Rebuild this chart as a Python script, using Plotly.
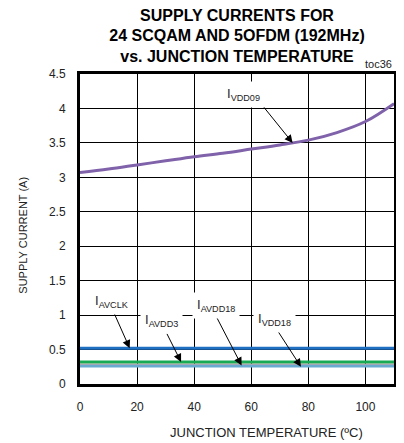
import plotly.graph_objects as go

# Data
temp = [0, 10, 20, 30, 40, 50, 60, 70, 80, 90, 100, 110]
i_vdd09 = [3.07, 3.12, 3.18, 3.24, 3.30, 3.35, 3.41, 3.47, 3.54, 3.65, 3.81, 4.07]
temp_flat = [0, 110]
i_avclk = [0.52, 0.52]
i_avdd3 = [0.32, 0.32]
i_avdd18 = [0.28, 0.28]
i_vdd18 = [0.26, 0.26]

x_ticks = [0, 20, 40, 60, 80, 100]
y_ticks = [0, 0.5, 1, 1.5, 2, 2.5, 3, 3.5, 4, 4.5]
y_ticktext = ["0", "0.5", "1", "1.5", "2", "2.5", "3", "3.5", "4", "4.5"]

FONT = "Liberation Sans, Arial, sans-serif"

fig = go.Figure()
fig.add_trace(go.Scatter(x=temp_flat, y=i_avdd18, mode="lines",
                         line=dict(color="#e3a3a3", width=2.5), name="IAVDD18"))
fig.add_trace(go.Scatter(x=temp_flat, y=i_vdd18, mode="lines",
                         line=dict(color="#6aaad0", width=3), name="IVDD18"))
fig.add_trace(go.Scatter(x=temp_flat, y=i_avdd3, mode="lines",
                         line=dict(color="#19aa55", width=3), name="IAVDD3"))
fig.add_trace(go.Scatter(x=temp_flat, y=i_avclk, mode="lines",
                         line=dict(color="#1f6fc2", width=3), name="IAVCLK"))
fig.add_trace(go.Scatter(x=temp, y=i_vdd09, mode="lines",
                         line=dict(color="#7f62aa", width=3, shape="spline"), name="IVDD09"))

# arrows: (head_x, head_y, tail_x, tail_y)
arrows = [
    (74.5, 3.50, 63.2, 4.08),
    (17.4, 0.52, 11.5, 1.07),
    (35.4, 0.32, 30.2, 0.75),
    (56.6, 0.27, 47.6, 0.99),
    (77.4, 0.25, 68.8, 0.80),
]
for hx, hy, tx, ty in arrows:
    fig.add_annotation(x=hx, y=hy, ax=tx, ay=ty, xref="x", yref="y", axref="x", ayref="y",
                       text="", showarrow=True, arrowhead=2, arrowsize=1.6, arrowwidth=1,
                       arrowcolor="black", standoff=0, startstandoff=0)

labels = [
    ("I<sub>VDD09</sub>", 57.3, 4.20),
    ("I<sub>AVCLK</sub>", 10.9, 1.20),
    ("I<sub>AVDD3</sub>", 28.4, 0.92),
    ("I<sub>AVDD18</sub>", 47.7, 1.14),
    ("I<sub>VDD18</sub>", 68.1, 0.94),
]
for t, lx, ly in labels:
    fig.add_annotation(x=lx, y=ly, xref="x", yref="y", text=t, showarrow=False,
                       font=dict(family=FONT, size=13, color="#222"),
                       bgcolor="white", borderpad=4)

fig.add_annotation(xref="paper", yref="paper", x=1.0, y=1.0, xanchor="right", yanchor="bottom",
                   yshift=2, text="toc36", showarrow=False,
                   font=dict(family=FONT, size=11, color="#222"))
fig.add_annotation(xref="paper", yref="paper", x=0.593, y=-0.158, xanchor="center", yanchor="middle",
                   text="JUNCTION TEMPERATURE (ºC)", showarrow=False,
                   font=dict(family=FONT, size=13, color="#222"))
fig.add_annotation(xref="paper", yref="paper", x=-0.18, y=0.48, xanchor="center", yanchor="middle",
                   text="SUPPLY CURRENT (A)", textangle=-90, showarrow=False,
                   font=dict(family=FONT, size=11, color="#222"))

# The page body has an 8px default margin, so the figure is sized/offset to compensate.
fig.update_layout(
    width=396, height=435,
    margin=dict(l=72, r=7, t=66, b=59),
    paper_bgcolor="white", plot_bgcolor="white",
    showlegend=False,
    title=dict(text="<b>SUPPLY CURRENTS FOR<br>24 SCQAM AND 5OFDM (192MHz)<br>vs. JUNCTION TEMPERATURE</b>",
               x=0.5, xanchor="center", xref="paper", y=0.971, yanchor="top", yref="container",
               font=dict(family=FONT, size=16, color="black")),
    xaxis=dict(range=[0, 110], tickvals=x_ticks, showgrid=True, gridcolor="black", gridwidth=1,
               showline=True, linecolor="black", linewidth=3, mirror=True, zeroline=False,
               ticks="", ticklabelstandoff=10,
               tickfont=dict(family=FONT, size=12, color="#222")),
    yaxis=dict(range=[0, 4.5], tickvals=y_ticks, ticktext=y_ticktext, showgrid=True,
               gridcolor="black", gridwidth=1,
               showline=True, linecolor="black", linewidth=3, mirror=True, zeroline=False,
               ticks="", ticklabelstandoff=9,
               tickfont=dict(family=FONT, size=12, color="#222")),
)

fig.write_html("out.html")
